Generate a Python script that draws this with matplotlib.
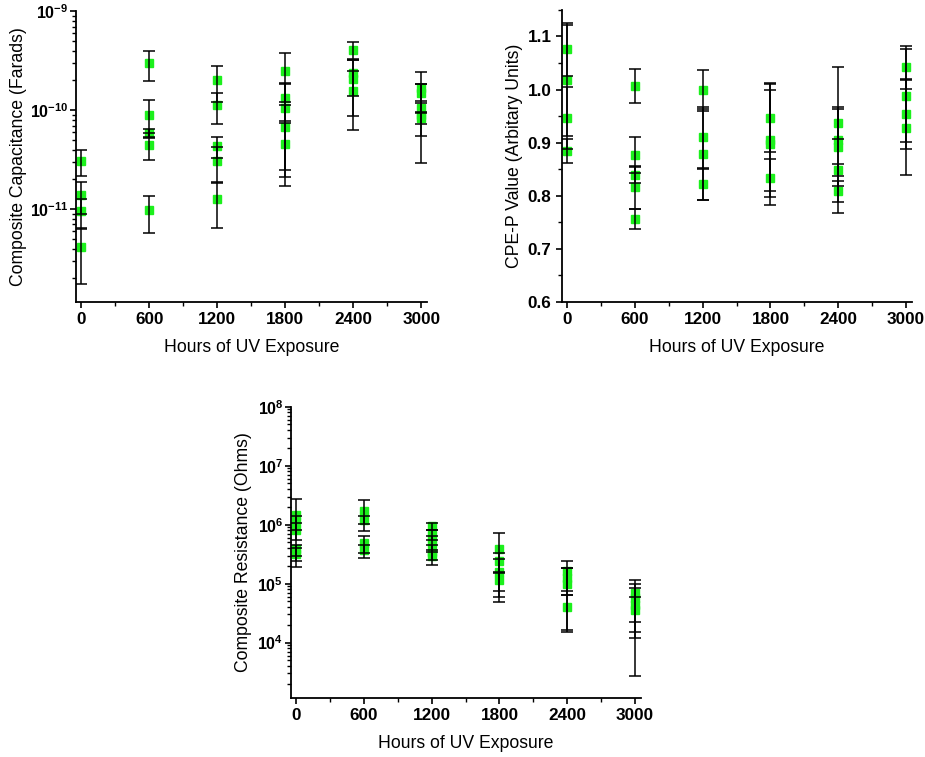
import matplotlib
matplotlib.use('Agg')
import matplotlib.pyplot as plt
from matplotlib.ticker import FuncFormatter, MultipleLocator, NullFormatter, LogLocator
import numpy as np

plt.rcParams['font.family'] = ['Liberation Sans', 'DejaVu Sans']
plt.rcParams['mathtext.fontset'] = 'custom'
plt.rcParams['mathtext.bf'] = 'Liberation Sans:bold'
plt.rcParams['mathtext.rm'] = 'Liberation Sans'

hours = [0, 600, 1200, 1800, 2400, 3000]
hour_labels = ['0', '600', '1200', '1800', '2400', '3000']

# Composite capacitance (F)
cap_vals = [
    [3.05e-11, 1.39e-11, 9.5e-12, 4.1e-12],
    [2.99e-10, 9.0e-11, 5.9e-11, 4.5e-11, 9.7e-12],
    [2.01e-10, 1.12e-10, 4.35e-11, 3.05e-11, 1.26e-11],
    [2.5e-10, 1.32e-10, 1.05e-10, 6.7e-11, 4.6e-11],
    [4.05e-10, 2.36e-10, 2.06e-10, 1.55e-10],
    [1.69e-10, 1.51e-10, 1.06e-10, 9.0e-11, 8.4e-11],
]
cap_errs = [
    [0.9e-11, 0.49e-11, 3.25e-12, 2.35e-12],
    [1.0e-10, 3.6e-11, 0.6e-11, 1.36e-11, 3.9e-12],
    [0.8e-10, 0.39e-10, 1.07e-11, 1.2e-11, 6.1e-12],
    [1.28e-10, 0.55e-10, 0.8e-10, 4.6e-11, 2.9e-11],
    [0.86e-10, 0.97e-10, 1.18e-10, 0.92e-10],
    [0.75e-10, 0.32e-10, 0.77e-10, 0.35e-10, 0.12e-10],
]

# CPE-P value
cpe_vals = [
    [1.0756, 1.0174, 0.9467, 0.8847],
    [1.0068, 0.8772, 0.8397, 0.8159, 0.757],
    [0.9986, 0.9098, 0.8778, 0.8215],
    [0.9473, 0.9048, 0.8972, 0.834],
    [0.9373, 0.9048, 0.891, 0.8484, 0.8084],
    [1.0418, 0.9886, 0.9542, 0.9285],
]
cpe_errs = [
    [0.05, 0.105, 0.058, 0.0225],
    [0.0325, 0.034, 0.015, 0.04, 0.019],
    [0.039, 0.058, 0.085, 0.029],
    [0.064, 0.095, 0.115, 0.036],
    [0.03, 0.137, 0.072, 0.012, 0.02],
    [0.04, 0.087, 0.066, 0.09],
]

# Composite resistance (Ohms)
res_vals = [
    [1.46e6, 1.1e6, 8.0e5, 3.8e5, 3.2e5],
    [1.68e6, 1.22e6, 4.88e5, 3.66e5],
    [9.4e5, 6.8e5, 4.9e5, 3.5e5, 2.9e5],
    [3.85e5, 2.4e5, 1.6e5, 1.16e5],
    [1.61e5, 1.24e5, 9.96e4, 4.0e4],
    [6.92e4, 5.69e4, 4.39e4, 3.6e4],
]
res_errs = [
    [1.27e6, 0.3e6, 2.5e5, 0.8e5, 0.8e5],
    [0.9e6, 0.2e6, 1.6e5, 0.9e5],
    [1.3e5, 1.3e5, 1.5e5, 1.0e5, 0.8e5],
    [3.37e5, 0.9e5, 1.0e5, 0.4e5],
    [0.85e5, 0.6e5, 8.3e4, 2.5e4],
    [4.7e4, 4.2e4, 4.12e4, 2.4e4],
]

GREEN = '#1cf01c'

fig = plt.figure(figsize=(9.25, 7.57), dpi=100)
ax1 = fig.add_axes([0.0822, 0.601, 0.3794, 0.384])
ax2 = fig.add_axes([0.6076, 0.601, 0.378, 0.386])
ax3 = fig.add_axes([0.3146, 0.0779, 0.378, 0.3848])


def draw(ax, vals, errs):
    for h, v, e in zip(hours, vals, errs):
        ax.errorbar([h] * len(v), v, yerr=e, fmt='s', color=GREEN,
                    markersize=6.2, markeredgecolor=GREEN, ecolor='black',
                    elinewidth=1.1, capsize=4.2, capthick=1.1, barsabove=True)


def log_fmt(v, pos):
    return r'$\mathbf{10^{%d}}$' % int(round(np.log10(v)))


def style(ax, ylabel, ylabelsize=12.5, pad=2, ylpad=6):
    for s in ['top', 'right']:
        ax.spines[s].set_visible(False)
    for s in ['left', 'bottom']:
        ax.spines[s].set_linewidth(1.3)
    ax.set_xlim(-45, 3050)
    ax.set_xticks(hours)
    ax.set_xticklabels(hour_labels)
    ax.xaxis.set_minor_locator(MultipleLocator(300))
    ax.tick_params(which='major', direction='out', length=4.5, width=1.2,
                   labelsize=12.3, pad=3)
    ax.tick_params(axis='y', which='major', labelsize=ylabelsize, pad=pad)
    ax.tick_params(which='minor', direction='out', length=2.8, width=1.0)
    for lab in ax.get_xticklabels() + ax.get_yticklabels():
        lab.set_fontweight('bold')
    ax.set_xlabel('Hours of UV Exposure', fontsize=12.7, labelpad=8)
    ax.set_ylabel(ylabel, fontsize=12.7, labelpad=ylpad)


draw(ax1, cap_vals, cap_errs)
ax1.set_yscale('log')
ax1.set_ylim(1.15e-12, 1e-9)
ax1.yaxis.set_major_locator(LogLocator(base=10, numticks=10))
ax1.yaxis.set_major_formatter(FuncFormatter(log_fmt))
ax1.yaxis.set_minor_locator(LogLocator(base=10, subs=np.arange(2, 10), numticks=20))
ax1.yaxis.set_minor_formatter(NullFormatter())
style(ax1, 'Composite Capacitance (Farads)', ylabelsize=11.5, pad=1, ylpad=2)

draw(ax2, cpe_vals, cpe_errs)
ax2.set_ylim(0.6, 1.15)
ax2.set_yticks([0.6, 0.7, 0.8, 0.9, 1.0, 1.1])
ax2.yaxis.set_minor_locator(MultipleLocator(0.05))
style(ax2, 'CPE-P Value (Arbitary Units)', ylabelsize=12.3, pad=3, ylpad=3)

draw(ax3, res_vals, res_errs)
ax3.set_yscale('log')
ax3.set_ylim(1.15e3, 1e8)
ax3.yaxis.set_major_locator(LogLocator(base=10, numticks=10))
ax3.yaxis.set_major_formatter(FuncFormatter(log_fmt))
ax3.yaxis.set_minor_locator(LogLocator(base=10, subs=np.arange(2, 10), numticks=20))
ax3.yaxis.set_minor_formatter(NullFormatter())
style(ax3, 'Composite Resistance (Ohms)', ylabelsize=11.5, pad=1, ylpad=4)

fig.savefig('out.png', dpi=100)
